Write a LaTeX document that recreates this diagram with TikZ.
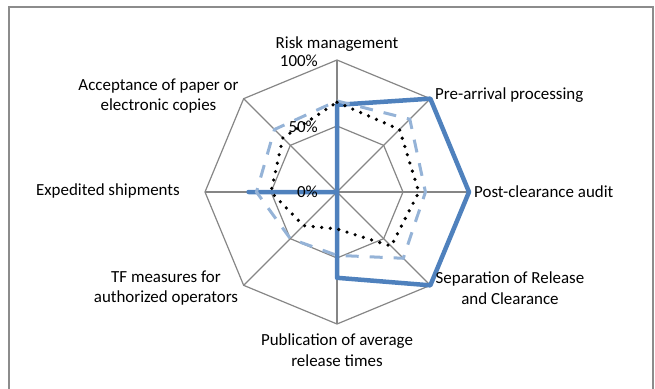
\documentclass[tikz,border=0pt]{standalone}
\usepackage{fontspec}
\setmainfont{Carlito}
\definecolor{gridgray}{HTML}{868686}
\definecolor{framegray}{HTML}{8C8C8C}
\definecolor{darkblue}{HTML}{4F81BD}
\definecolor{lightblue}{HTML}{95B3D7}
\tikzset{
	grid/.style = {draw = gridgray, line width = 1.2bp},
	seriesa/.style = {draw = darkblue, line width = 4.5bp, line join = round},
	seriesb/.style = {draw = lightblue, line width = 3bp, dash pattern = on 13bp off 11bp},
	seriesc/.style = {draw = black, line width = 3.6bp, line cap = round,
		dash pattern = on 0bp off 8.6bp}
}
\begin{document}
\begin{tikzpicture}[x = 1bp, y = 1bp]
\useasboundingbox (-337,-196) rectangle (318,192);

% Rahmen
\draw[framegray, line width = 2bp] (-328,-210) -- (-328,185) -- (316,185) -- (316,-210);

% Achsen und Gitter
\coordinate (C) at (0,0);
\foreach \i in {0,...,7} {
	\coordinate (O\i) at ({90-45*\i}:132);
	\coordinate (M\i) at ({90-45*\i}:66);
	\draw[grid] (C) -- (O\i);
}
\draw[grid] (O0) -- (O1) -- (O2) -- (O3) -- (O4) -- (O5) -- (O6) -- (O7) -- cycle;
\draw[grid] (M0) -- (M1) -- (M2) -- (M3) -- (M4) -- (M5) -- (M6) -- (M7) -- cycle;

% Datenreihen
\begin{scope}[scale = 132]
	\draw[seriesa] (90:0.66) -- (45:1) -- (0:1) -- (-45:1) -- (-90:0.65)
		-- (C) -- (180:0.67) -- (C) -- cycle;
	\draw[seriesb] (90:0.69) -- (45:0.78) -- (0:0.67) -- (-45:0.71) -- (-90:0.48)
		-- (-135:0.5) -- (180:0.61) -- (135:0.67) -- cycle;
	\draw[seriesc] (90:0.68) -- (45:0.67) -- (0:0.62) -- (-45:0.58) -- (-90:0.28)
		-- (-135:0.36) -- (180:0.5) -- (135:0.58) -- cycle;
\end{scope}

% Beschriftungen
\begin{scope}[
		every node/.style = {font = \fontsize{17}{20.5}\selectfont,
		inner sep = 0pt, align = center}]
	\node (risk) at (0,148) {Risk management};
	\node[anchor = west] (pre) at (98,97) {Pre-arrival processing};
	\node[anchor = west] (post) at (137,0) {Post-clearance audit};
	\node (sep) at (173,-96) {Separation of Release\\and Clearance};
	\node (pub) at (0,-158) {Publication of average\\release times};
	\node (tf) at (-171,-96) {TF measures for\\authorized operators};
	\node[anchor = east] (exp) at (-157,1) {Expedited shipments};
	\node (acc) at (-178.5,96) {Acceptance of paper or\\electronic copies};
	\node[anchor = east] (p100) at (-19,131) {100\%};
	\node[anchor = east] (p50) at (-19,65) {50\%};
	\node[anchor = east] (p0) at (-19,0) {0\%};
\end{scope}
\end{tikzpicture}
\end{document}
